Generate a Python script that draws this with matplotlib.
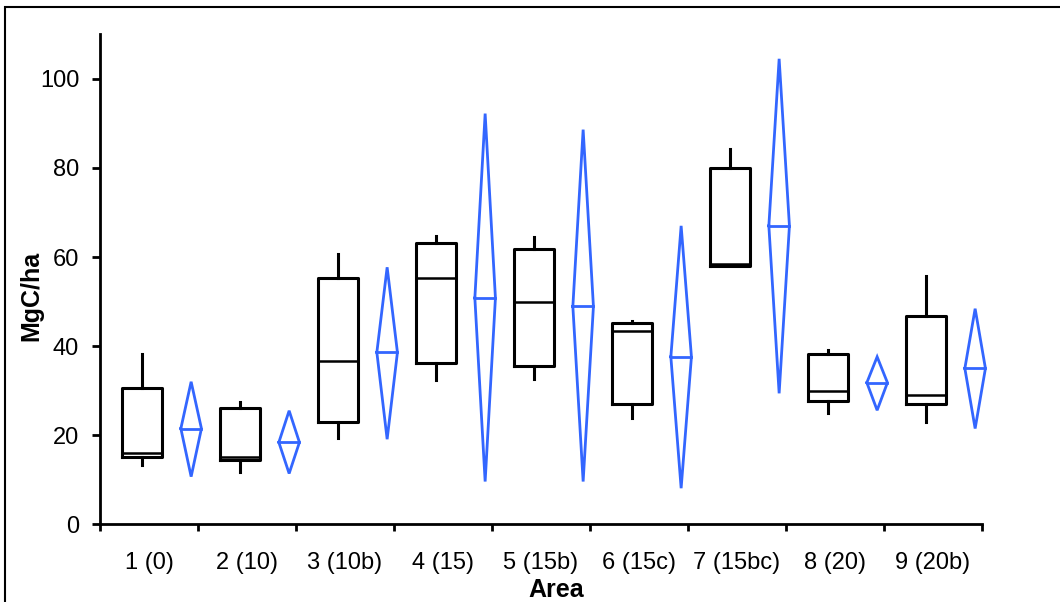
import numpy as np
import matplotlib
matplotlib.use('Agg')
import matplotlib.pyplot as plt
from matplotlib.patches import Rectangle

plt.rcParams['font.family'] = ['Liberation Sans', 'DejaVu Sans']

areas = ['1 (0)', '2 (10)', '3 (10b)', '4 (15)', '5 (15b)', '6 (15c)', '7 (15bc)', '8 (20)', '9 (20b)']

# box plot stats (MgC/ha)
box_low = [13.4, 11.7, 19.4, 32.4, 32.6, 23.8, 57.9, 25.0, 23.0]
box_q1 = [15.0, 14.4, 23.0, 36.2, 35.6, 27.1, 57.9, 27.7, 27.1]
box_med = [16.1, 15.2, 36.6, 55.4, 49.8, 43.3, 58.4, 30.0, 29.1]
box_q3 = [30.5, 26.2, 55.2, 63.2, 61.9, 45.3, 80.0, 38.2, 46.7]
box_high = [38.2, 27.5, 60.6, 64.7, 64.5, 45.6, 84.3, 39.1, 55.7]

# mean diamonds
dia_mean = [21.5, 18.4, 38.6, 50.8, 48.9, 37.6, 67.0, 31.8, 35.0]
dia_upper = [32.0, 25.5, 57.7, 92.2, 88.6, 67.0, 104.5, 37.6, 48.4]
dia_lower = [10.7, 11.4, 19.1, 9.6, 9.6, 8.1, 29.4, 25.6, 21.5]

blue = '#3366ff'
fs = 17

fig = plt.figure(figsize=(10.6, 6.02), dpi=100)
ax = fig.add_axes([100/1060, 1-524.3/602, 882/1060, 490/602])

x = np.arange(1, len(areas)+1)
stats = []
for i in range(len(areas)):
    stats.append(dict(whislo=box_low[i], q1=box_q1[i], med=box_med[i], q3=box_q3[i], whishi=box_high[i]))
lp = dict(color='black', linewidth=2.2)
ax.bxp(stats, positions=x-0.07, widths=0.41, showcaps=False, showfliers=False,
       boxprops=lp, whiskerprops=lp, medianprops=dict(color='black', linewidth=1.8),
       manage_ticks=False)

hw = 0.105
for i, c in enumerate(x + 0.43):
    ax.plot([c-hw, c, c+hw, c, c-hw], [dia_mean[i], dia_upper[i], dia_mean[i], dia_lower[i], dia_mean[i]],
            color=blue, linewidth=2, solid_joinstyle='miter', clip_on=False)
    ax.plot([c-hw, c+hw], [dia_mean[i], dia_mean[i]], color=blue, linewidth=2, clip_on=False)

ax.set_xlim(0.5, len(areas)+0.5)
ax.set_ylim(0, 110)
ax.set_xticks(np.arange(0.5, len(areas)+1, 1))
ax.set_xticklabels([])
ax.set_xticks(x, minor=True)
ax.set_xticklabels(areas, minor=True, fontsize=fs)
ax.tick_params(axis='x', which='minor', length=0, pad=20)
ax.tick_params(axis='x', which='major', length=5, width=2)
ax.set_yticks([0, 20, 40, 60, 80, 100])
ax.tick_params(axis='y', length=6, width=2, pad=9, labelsize=fs)
for s in ['top', 'right']:
    ax.spines[s].set_visible(False)
for s in ['left', 'bottom']:
    ax.spines[s].set_linewidth(2)

fig.text(31.7/1060, 1-295.7/602, 'MgC/ha', rotation=90, ha='center', va='center',
         fontsize=18, fontweight='bold')
fig.text(556/1060, 0.0, 'Area', ha='center', va='bottom', fontsize=18, fontweight='bold')

# frame around the figure (cut off at right and bottom)
fig.patches.append(Rectangle((5/1060, -0.1), 1.2, 1.1-7/602, transform=fig.transFigure,
                             fill=False, edgecolor='black', linewidth=1.5, clip_on=False))

fig.savefig('out.png', dpi=100)
